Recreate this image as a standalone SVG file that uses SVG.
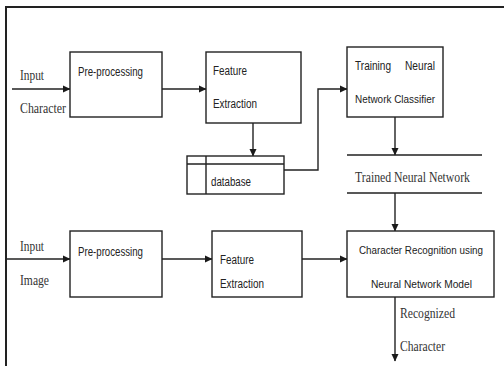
<svg xmlns="http://www.w3.org/2000/svg" width="504" height="366" viewBox="0 0 504 366">
<defs>
<marker id="ah" markerWidth="8" markerHeight="8" refX="7" refY="4" orient="auto" markerUnits="userSpaceOnUse">
<path d="M0,0.5 L7.5,4 L0,7.5 Z" fill="#1a1a1a"/>
</marker>
<style>
.box{fill:#fff;stroke:#222;stroke-width:1.4}
.ln{fill:none;stroke:#222;stroke-width:1.4}
.sans{font-family:"Liberation Sans",Arial,sans-serif;font-size:12.5px;fill:#222}
.small{font-size:11px}
.serif{font-family:"Liberation Serif","Times New Roman",serif;font-size:15px;fill:#333}
</style>
</defs>
<rect width="504" height="366" fill="#fff"/>
<g id="frame">
<path d="M6,366 V7 H504" fill="none" stroke="#222" stroke-width="2"/>
</g>
<g id="connectors">
<path class="ln" d="M12,89 H70" marker-end="url(#ah)"/>
<path class="ln" d="M162,89 H206" marker-end="url(#ah)"/>
<path class="ln" d="M253,123 V156" marker-end="url(#ah)"/>
<path class="ln" d="M284,170 H318 V89 H347" marker-end="url(#ah)"/>
<path class="ln" d="M395,117 V155" marker-end="url(#ah)"/>
<path class="ln" d="M395,193 V231" marker-end="url(#ah)"/>
<path class="ln" d="M6,259 H70" marker-end="url(#ah)"/>
<path class="ln" d="M162,259 H212" marker-end="url(#ah)"/>
<path class="ln" d="M302,259 H347" marker-end="url(#ah)"/>
<path class="ln" d="M395,297 V361" marker-end="url(#ah)"/>
</g>
<g id="labels">
<text class="serif" x="20" y="80" textLength="24" lengthAdjust="spacingAndGlyphs">Input</text>
<text class="serif" x="20" y="113" textLength="46" lengthAdjust="spacingAndGlyphs">Character</text>
<text class="serif" x="20" y="251" textLength="24" lengthAdjust="spacingAndGlyphs">Input</text>
<text class="serif" x="20" y="285" textLength="29" lengthAdjust="spacingAndGlyphs">Image</text>
<text class="serif" x="400" y="318" textLength="55" lengthAdjust="spacingAndGlyphs">Recognized</text>
<text class="serif" x="400" y="351" textLength="45" lengthAdjust="spacingAndGlyphs">Character</text>
</g>
<g id="preprocessing1">
<rect class="box" x="70" y="52" width="92" height="65"/>
<text class="sans" x="78" y="76" textLength="65" lengthAdjust="spacingAndGlyphs">Pre-processing</text>
</g>
<g id="feature1">
<rect class="box" x="206" y="52" width="95" height="71"/>
<text class="sans" x="213" y="75" textLength="34" lengthAdjust="spacingAndGlyphs">Feature</text>
<text class="sans" x="213" y="108" textLength="44" lengthAdjust="spacingAndGlyphs">Extraction</text>
</g>
<g id="database">
<rect class="box" x="187" y="156" width="97" height="38"/>
<path class="ln" d="M187,164 H284 M206,156 V194"/>
<text class="sans" x="211" y="186" textLength="40" lengthAdjust="spacingAndGlyphs">database</text>
</g>
<g id="training">
<rect class="box" x="347" y="47" width="96" height="70"/>
<text class="sans" x="355" y="70" textLength="36" lengthAdjust="spacingAndGlyphs">Training</text>
<text class="sans" x="405" y="70" textLength="30" lengthAdjust="spacingAndGlyphs">Neural</text>
<text class="sans small" x="355" y="103" textLength="80" lengthAdjust="spacingAndGlyphs">Network Classifier</text>
</g>
<g id="trained">
<path class="ln" d="M347,155 H482 M347,193 H482"/>
<text class="serif" x="355" y="182" textLength="115" lengthAdjust="spacingAndGlyphs">Trained Neural Network</text>
</g>
<g id="preprocessing2">
<rect class="box" x="70" y="231" width="92" height="66"/>
<text class="sans" x="78" y="256" textLength="65" lengthAdjust="spacingAndGlyphs">Pre-processing</text>
</g>
<g id="feature2">
<rect class="box" x="212" y="231" width="90" height="66"/>
<text class="sans" x="220" y="264" textLength="34" lengthAdjust="spacingAndGlyphs">Feature</text>
<text class="sans" x="220" y="288" textLength="44" lengthAdjust="spacingAndGlyphs">Extraction</text>
</g>
<g id="recognition">
<rect class="box" x="347" y="231" width="147" height="66"/>
<text class="sans small" x="359" y="254" textLength="124" lengthAdjust="spacingAndGlyphs">Character Recognition using</text>
<text class="sans small" x="371" y="288" textLength="101" lengthAdjust="spacingAndGlyphs">Neural Network Model</text>
</g>
</svg>
